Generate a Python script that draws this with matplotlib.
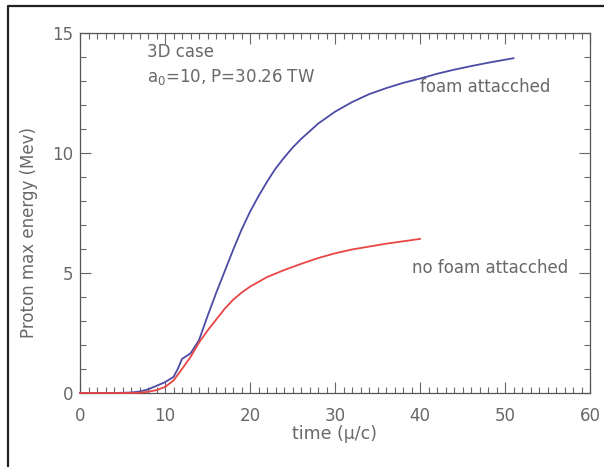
import matplotlib
matplotlib.use('Agg')
from matplotlib import pyplot as plt
from matplotlib.ticker import MultipleLocator
from matplotlib.lines import Line2D

# time (mu/c) and proton max energy (MeV)
t_foam = [0, 2, 4, 6, 7, 8, 9, 10, 11, 11.5, 12, 13, 14, 15, 16, 17, 18, 19, 20, 21, 22,
          23, 24, 25, 26, 28, 30, 32, 34, 36, 38, 40, 42, 44, 46, 48, 51]
e_foam = [0, 0, 0, 0.02, 0.06, 0.15, 0.3, 0.45, 0.67, 1.0, 1.42, 1.65, 2.2, 3.2, 4.15, 5.05,
          5.95, 6.8, 7.55, 8.2, 8.8, 9.35, 9.8, 10.22, 10.58, 11.22, 11.72, 12.12, 12.45,
          12.7, 12.92, 13.1, 13.3, 13.47, 13.62, 13.76, 13.95]
t_nofoam = [0, 2, 4, 6, 7, 8, 9, 10, 11, 12, 13, 14, 15, 16, 17, 18, 19, 20, 22, 24, 26,
            28, 30, 32, 34, 36, 38, 40]
e_nofoam = [0, 0, 0, 0, 0.01, 0.05, 0.12, 0.25, 0.52, 1.0, 1.5, 2.1, 2.6, 3.05, 3.5, 3.88,
            4.18, 4.43, 4.83, 5.12, 5.38, 5.62, 5.82, 5.98, 6.1, 6.22, 6.32, 6.42]

plt.rcParams['font.family'] = ['DejaVu Sans']
plt.rcParams['mathtext.default'] = 'regular'
grey = '#686868'

fig = plt.figure(figsize=(6.04, 4.67), dpi=100)
ax = fig.add_axes([80/604, 74/467, 510/604, 360/467])

ax.plot(t_foam, e_foam, color='#4b4ba6', lw=1.3, zorder=3, clip_on=False)
ax.plot(t_nofoam, e_nofoam, color='#e84545', lw=1.3, zorder=3, clip_on=False)

ax.set_xlim(0, 60)
ax.set_ylim(0, 15)
ax.xaxis.set_major_locator(MultipleLocator(10))
ax.xaxis.set_minor_locator(MultipleLocator(1))
ax.yaxis.set_major_locator(MultipleLocator(5))
ax.yaxis.set_minor_locator(MultipleLocator(1))
ax.tick_params(which='both', direction='in', top=True, right=True, color=grey,
               labelcolor=grey, labelsize=12, width=0.8)
ax.tick_params(which='major', length=8)
ax.tick_params(which='minor', length=4)
ax.tick_params(axis='x', pad=10)
ax.tick_params(axis='y', pad=5)
for s in ax.spines.values():
    s.set_color('#555555')
    s.set_linewidth(0.9)

ax.set_xlabel('time (μ/c)', color=grey, fontsize=12.5)
ax.xaxis.set_label_coords(0.5, -0.09)
ax.set_ylabel('Proton max energy (Mev)', color=grey, fontsize=12)
ax.yaxis.set_label_coords(-0.082, 0.447)

def fig_text(x, y, s):
    # x, y in pixels from the top-left corner
    fig.text(x/604, 1 - y/467, s, color=grey, fontsize=12, va='center')

fig_text(147, 52, '3D case')
fig_text(147, 77, 'a$_0$=10, P=30.26 TW')
fig_text(420, 87, 'foam attacched')
fig_text(412, 268, 'no foam attacched')

# outer frame (only left and top edges fall inside the picture)
fig.add_artist(Line2D([8/604, 8/604, 1], [0, 1 - 6/467, 1 - 6/467],
                      transform=fig.transFigure, color='#222222', lw=1.6))

fig.savefig('out.png', dpi=100)
